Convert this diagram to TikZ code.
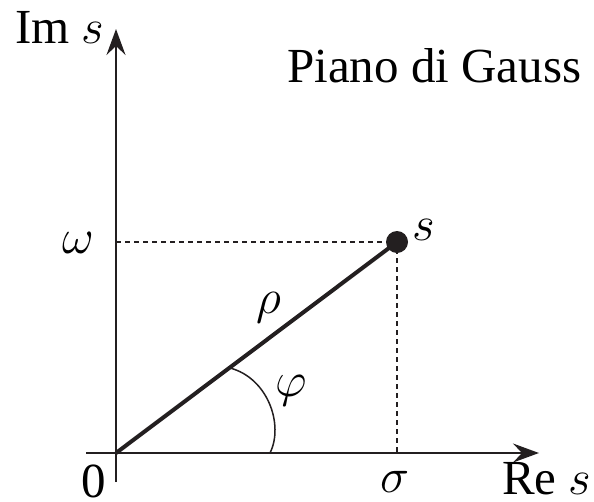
\RequirePackage{fix-cm}
\documentclass[tikz,border=0pt]{standalone}
\usepackage{fontspec}
\setmainfont{Liberation Serif}
\usetikzlibrary{arrows.meta}
\definecolor{ink}{RGB}{35,31,32}

\begin{document}
\begin{tikzpicture}[x=1pt,y=-1pt,>={Stealth[length=26pt,width=19pt,inset=9pt]},
  font=\fontsize{49}{58}\selectfont,
  axis/.style={->,draw=ink,fill=ink,line width=1.7pt},
  lbl/.style={inner sep=0pt}]
  \useasboundingbox (0,0) rectangle (594,501);
  % assi
  \coordinate (O) at (116,453);
  \coordinate (xbeg) at (86,453);
  \coordinate (xend) at (539,453);
  \coordinate (ybeg) at (116,482);
  \coordinate (yend) at (116,29);
  \draw[axis] (xbeg)--(xend);
  \draw[axis] (ybeg)--(yend);
  % punto s e proiezioni
  \coordinate (S) at (397,242);
  \coordinate (W) at (116,242);
  \coordinate (Sig) at (397,453);
  \draw[ink,line width=1.5pt,dash pattern=on 5pt off 4pt] (W)--(S)--(Sig);
  \draw[ink,line width=4pt] (O)--(S);
  \fill[ink] (S) circle (11pt);
  % angolo
  \coordinate (A1) at (230,368);
  \coordinate (A2) at (270,453);
  \draw[ink,line width=1.5pt] (A1) .. controls (268,378) and (284,425) .. (A2);
  % etichette
  \node[lbl,anchor=base west] (imlab) at (15,43) {Im $s$};
  \node[lbl,anchor=base west] (relab) at (502,494) {Re $s$};
  \node[lbl,anchor=base west] (title) at (287,82) {Piano di Gauss};
  \node[lbl,anchor=base west] (om) at (62,253) {$\omega$};
  \node[lbl,anchor=base west] (slab) at (412,240) {$s$};
  \node[lbl,anchor=base west] (rho) at (256,313) {$\rho$};
  \node[lbl,anchor=base west] (phi) at (275,396) {$\varphi$};
  \node[lbl,anchor=base west] (zero) at (81,497) {0};
  \node[lbl,anchor=base west] (sig) at (380,492) {$\sigma$};
\end{tikzpicture}
\end{document}
